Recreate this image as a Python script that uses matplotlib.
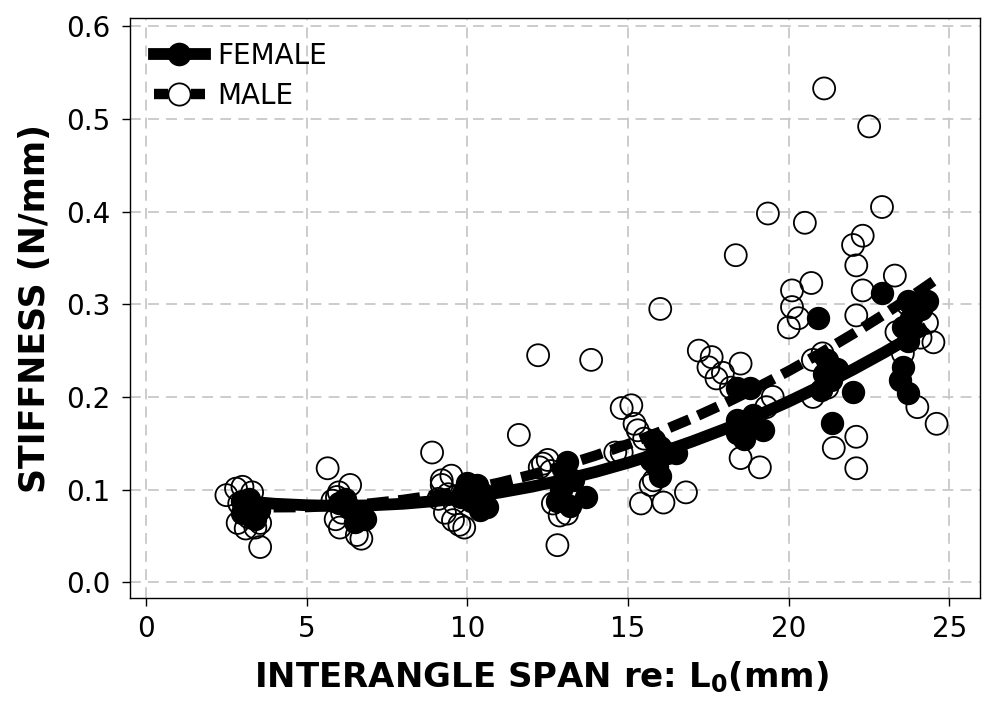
"""Stiffness vs interangle span, female (filled) and male (open) with fitted curves."""
import numpy as np
import matplotlib
matplotlib.use("Agg")
import matplotlib.pyplot as plt
from matplotlib.lines import Line2D

# ---------------------------------------------------------------------------
# Data
# ---------------------------------------------------------------------------
female_x = [3.0, 3.1, 3.2, 3.3, 3.4, 3.2, 3.5, 3.0,
            6.0, 6.3, 6.6, 6.8, 6.5, 6.2,
            9.8, 10.0, 10.3, 10.4, 10.6, 10.1, 10.5, 9.9,
            13.1, 13.0, 13.3, 12.9, 13.7, 12.8, 13.2,
            15.8, 16.0, 16.5, 15.7, 15.9, 16.2, 16.0,
            18.4, 18.8, 18.4, 19.2, 18.4, 18.7, 18.9, 18.6,
            20.9, 21.2, 21.3, 21.0, 21.35, 22.0, 21.5, 21.1,
            24.3, 23.7, 23.55, 23.55, 23.45, 23.7, 22.9, 23.8, 24.1, 23.7]
female_y = [0.088, 0.082, 0.075, 0.070, 0.068, 0.090, 0.078, 0.075,
            0.085, 0.080, 0.075, 0.068, 0.065, 0.090,
            0.092, 0.107, 0.105, 0.078, 0.081, 0.088, 0.095, 0.098,
            0.130, 0.120, 0.110, 0.100, 0.092, 0.088, 0.082,
            0.153, 0.146, 0.139, 0.132, 0.124, 0.140, 0.115,
            0.210, 0.210, 0.175, 0.164, 0.161, 0.170, 0.180, 0.155,
            0.285, 0.240, 0.218, 0.207, 0.172, 0.205, 0.230, 0.225,
            0.304, 0.304, 0.275, 0.232, 0.218, 0.204, 0.312, 0.285, 0.295, 0.260]

male_x = [2.5, 2.8, 3.0, 3.3, 2.9, 2.85, 3.1, 3.4, 3.55, 3.55, 3.2,
          5.65, 6.35, 5.94, 5.8, 6.03, 6.7, 6.56, 6.1, 6.0, 5.9,
          8.9, 9.5, 9.2, 9.2, 9.3, 9.55, 9.75, 9.9, 9.4, 9.6, 9.1,
          11.6, 12.2, 13.85, 12.5, 12.35, 12.25, 12.66, 12.87, 13.1, 12.8, 12.6,
          16.0, 14.8, 15.1, 15.2, 15.3, 14.8, 15.8, 15.7, 15.4, 16.1, 16.8, 15.5, 14.6,
          19.35, 18.35, 17.2, 17.6, 17.5, 17.75, 17.95, 18.5, 19.3, 18.5, 19.1, 18.2, 19.5,
          21.1, 22.5, 22.9, 20.5, 22.0, 22.3, 22.1, 22.3, 20.7, 20.1, 20.1, 20.0,
          22.1, 21.05, 20.75, 20.75, 21.4, 22.1, 22.1, 20.3, 21.2,
          23.3, 24.0, 24.6, 24.5, 24.1, 23.35, 23.55, 23.7, 24.3]
male_y = [0.094, 0.101, 0.103, 0.097, 0.085, 0.064, 0.058, 0.059, 0.064, 0.038, 0.070,
          0.123, 0.105, 0.092, 0.088, 0.059, 0.047, 0.051, 0.075, 0.097, 0.068,
          0.140, 0.115, 0.110, 0.105, 0.075, 0.067, 0.062, 0.059, 0.095, 0.085, 0.090,
          0.159, 0.245, 0.240, 0.132, 0.128, 0.124, 0.085, 0.072, 0.074, 0.040, 0.120,
          0.295, 0.188, 0.191, 0.171, 0.164, 0.140, 0.110, 0.105, 0.085, 0.086, 0.097, 0.155, 0.140,
          0.398, 0.353, 0.250, 0.243, 0.232, 0.220, 0.226, 0.236, 0.189, 0.134, 0.124, 0.210, 0.200,
          0.533, 0.492, 0.405, 0.388, 0.364, 0.374, 0.342, 0.315, 0.323, 0.315, 0.297, 0.275,
          0.288, 0.247, 0.240, 0.200, 0.145, 0.157, 0.123, 0.285, 0.210,
          0.331, 0.189, 0.171, 0.259, 0.264, 0.270, 0.247, 0.300, 0.280]

# fitted curves
female_fit_x = [3, 4, 5, 6, 7, 8, 9, 10, 11, 12, 13, 14, 15, 16, 17, 18,
                19, 20, 21, 22, 23, 24, 24.3]
female_fit_y = [0.0876, 0.0847, 0.0831, 0.0824, 0.0830, 0.0847, 0.0876, 0.0916,
                0.0968, 0.1031, 0.1106, 0.1192, 0.1290, 0.1399, 0.1520, 0.1652,
                0.1796, 0.1951, 0.2118, 0.2296, 0.2486, 0.2687, 0.2750]
male_fit_x = [3, 4, 5, 6, 7, 8, 9, 10, 11, 12, 13, 14, 15, 16, 17, 18,
              19, 20, 21, 22, 23, 24, 24.5]
male_fit_y = [0.0819, 0.0809, 0.0811, 0.0825, 0.0851, 0.0889, 0.0939, 0.1001,
              0.1075, 0.1161, 0.1259, 0.1369, 0.1491, 0.1625, 0.1771, 0.1929,
              0.2099, 0.2281, 0.2475, 0.2681, 0.2899, 0.3129, 0.3249]

x_ticks = [0, 5, 10, 15, 20, 25]
y_ticks = [0.0, 0.1, 0.2, 0.3, 0.4, 0.5, 0.6]

# ---------------------------------------------------------------------------
# Plot
# ---------------------------------------------------------------------------
fig = plt.figure(figsize=(9.9, 7.04), dpi=100)
ax = fig.add_axes([0.1313, 0.1506, 0.8586, 0.8238])

ax.grid(True, linestyle=(0, (6, 4)), color="#c8c8c8", linewidth=1.3, zorder=0)

ax.scatter(male_x, male_y, s=250, facecolors="none", edgecolors="black",
           linewidths=1.3, zorder=2)
ax.scatter(female_x, female_y, s=250, color="black", zorder=3)

ax.plot(male_fit_x, male_fit_y, color="black", linewidth=7.5,
        linestyle=(0, (2.1, 0.9)), solid_capstyle="butt", zorder=4)
ax.plot(female_fit_x, female_fit_y, color="black", linewidth=8.5,
        solid_capstyle="butt", zorder=4)

ax.set_xlim(-0.5, 25.95)
ax.set_ylim(-0.017, 0.609)
ax.set_xticks(x_ticks)
ax.set_yticks(y_ticks)
ax.set_yticklabels([f"{v:.1f}" for v in y_ticks])
ax.tick_params(labelsize=20, direction="out", length=6, width=1)
ax.tick_params(axis="y", pad=8)
ax.tick_params(axis="x", pad=6)
for sp in ax.spines.values():
    sp.set_linewidth(1.0)

ax.set_xlabel(r"INTERANGLE SPAN re: L$_\mathbf{0}$(mm)", fontsize=24.5,
              fontweight="bold", labelpad=12)
ax.xaxis.set_label_coords(0.4835, -0.105)
ax.set_ylabel("STIFFNESS (N/mm)", fontsize=25, fontweight="bold", labelpad=10)

handles = [
    Line2D([], [], color="black", linewidth=8.5, marker="o", markersize=16,
           markerfacecolor="black"),
    Line2D([], [], color="black", linewidth=7.5, linestyle=(0, (1.35, 2.2)),
           marker="o", markersize=16, markerfacecolor="white",
           markeredgewidth=1.3),
]
ax.legend(handles, ["FEMALE", "MALE"], loc="upper left", frameon=False,
          fontsize=20, handlelength=1.85, handletextpad=0.45,
          borderaxespad=0.45, labelspacing=0.45)

fig.savefig("out.png", dpi=100)
